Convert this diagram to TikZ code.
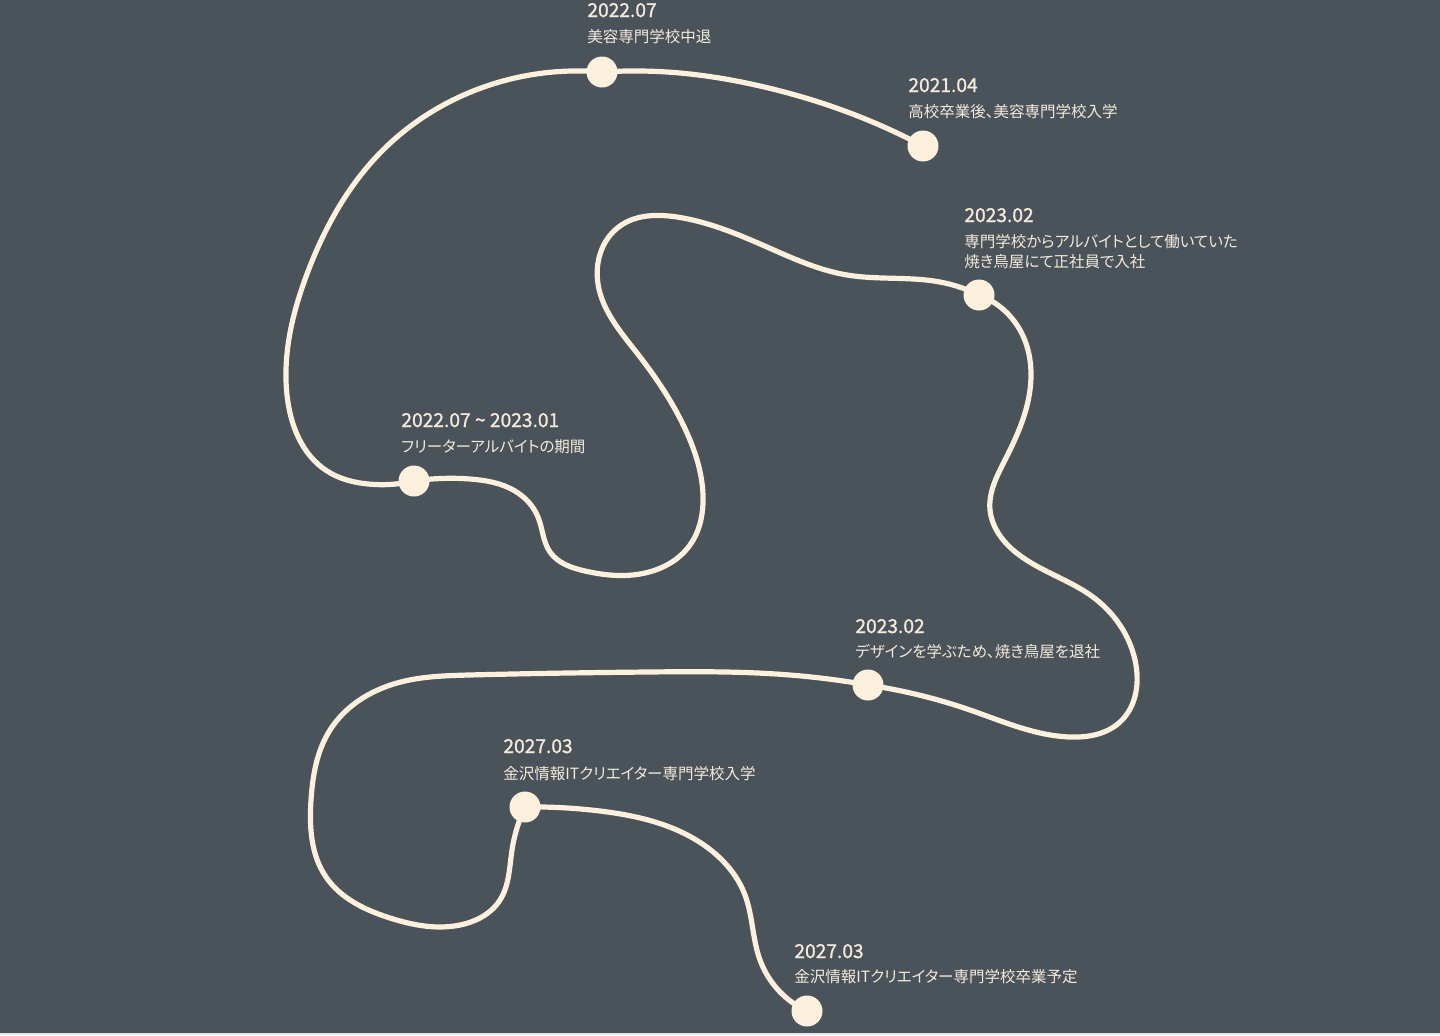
\documentclass[tikz,border=0pt]{standalone}
\usepackage{fontspec}
\setmainfont{Noto Sans CJK JP}
\newfontfamily\datefont[FakeBold=1.1]{Noto Sans CJK JP}
\newfontfamily\descfont[RawFeature=+palt]{Noto Sans CJK JP}
\usetikzlibrary{hobby}
\definecolor{bg}{HTML}{4B535A}
\definecolor{cream}{HTML}{FDF0DC}
\definecolor{txt}{HTML}{F4EADB}
\definecolor{strip}{HTML}{E4E6E8}
\begin{document}
\begin{tikzpicture}[x=0.5pt,y=-0.5pt,
  trail/.style={draw=cream, line width=2.6pt, line cap=round, line join=round, use Hobby shortcut},
  dot/.style={circle, fill=cream, minimum size=15.5pt, inner sep=0pt},
  datelbl/.style={anchor=base west, inner sep=0pt, text=txt, font=\datefont\fontsize{9.6}{11}\selectfont},
  desclbl/.style={anchor=base west, inner sep=0pt, text=txt, font=\descfont\fontsize{7.75}{9.6}\selectfont, align=left},
]
\fill[bg] (0,0) rectangle (1440,1035);
\fill[strip] (0,1033) rectangle (1440,1035);
\useasboundingbox (0,0) rectangle (1440,1035);

% dots
\node[dot] (d1) at (923,146) {};
\node[dot] (d2) at (602,72) {};
\node[dot] (d3) at (414,481) {};
\node[dot] (d4) at (979,295) {};
\node[dot] (d5) at (868,685) {};
\node[dot] (d6) at (525,807) {};
\node[dot] (d7) at (807,1011) {};

% connectors
\draw[trail] (d1.center) .. (850,113) .. (760,86) .. (680,73) .. (d2.center);
\draw[trail] (d2.center) .. (503,81) .. (380,153) .. (307,274) .. (287,395) .. (327,471) .. (368,484) .. (d3.center);
\draw[trail] (d3.center) .. (470,479) .. (515,491) .. (538,517) .. (550,552) .. (585,571) .. (640,574) .. (690,545) .. (703,495) .. (687,433) .. (637,353) .. (598,284) .. (620,226) .. (677,217) .. (767,247) .. (847,275) .. (940,282) .. (d4.center);
\draw[trail] (d4.center) .. (1020,330) .. (1030,390) .. (1005,460) .. (990,510) .. (1013,550) .. (1093,597) .. (1135,660) .. (1120,722) .. (1070,737) .. (970,710) .. (d5.center);
\draw[trail] (d5.center) .. (790,675) .. (647,672) .. (469,675) .. (397,683) .. (330,730) .. (311,800) .. (326,877) .. (390,918) .. (460,925) .. (500,900) .. (512,850) .. (d6.center);
\draw[trail] (d6.center) .. (600,811) .. (701,843) .. (745,895) .. (760,960) .. (d7.center);

% labels
\node[datelbl] (t2) at (587,17) {2022.07};
\node[desclbl] (s2) at (587,42) {美容専門学校中退};
\node[datelbl] (t1) at (908,92) {2021.04};
\node[desclbl] (s1) at (908,117) {高校卒業後、美容専門学校入学};
\node[datelbl] (t4) at (964,222) {2023.02};
\node[desclbl] (s4a) at (964,247) {専門学校からアルバイトとして働いていた};
\node[desclbl] (s4b) at (964,267) {焼き鳥屋にて正社員で入社};
\node[datelbl] (t3) at (401,427) {2022.07 \textasciitilde{} 2023.01};
\node[desclbl] (s3) at (401,452) {フリーターアルバイトの期間};
\node[datelbl] (t5) at (855,633) {2023.02};
\node[desclbl] (s5) at (855,657) {デザインを学ぶため、焼き鳥屋を退社};
\node[datelbl] (t6) at (503,753) {2027.03};
\node[desclbl] (s6) at (503,779) {金沢情報ITクリエイター専門学校入学};
\node[datelbl] (t7) at (794,958) {2027.03};
\node[desclbl] (s7) at (794,982) {金沢情報ITクリエイター専門学校卒業予定};
\end{tikzpicture}
\end{document}
